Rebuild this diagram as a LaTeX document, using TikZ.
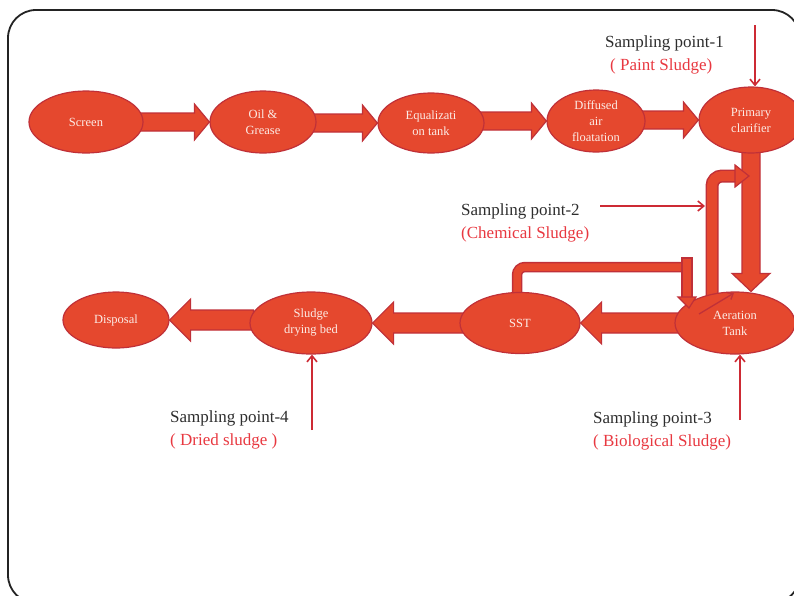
\documentclass[tikz,border=0pt]{standalone}
\usepackage{fontspec}
\setmainfont{Liberation Serif}
\usetikzlibrary{shapes.geometric,arrows.meta,calc}
\definecolor{fillc}{RGB}{229,72,46}
\definecolor{bordc}{RGB}{192,48,56}
\definecolor{txtc}{RGB}{252,236,230}
\definecolor{redt}{RGB}{232,56,64}
\definecolor{blk}{RGB}{45,45,45}
\definecolor{arrc}{RGB}{205,42,52}
\definecolor{framec}{RGB}{35,35,35}
\pgfdeclarelayer{bg}
\pgfsetlayers{bg,main}
% right-pointing block arrow: tail point, tip point, shaft half, head half, head length
\newcommand{\rarrow}[5]{%
  \draw[blockarr] let \p1=#1, \p2=#2 in
    (\x1-4pt,\y2-#3pt) -- (\x2-#5pt,\y2-#3pt) -- (\x2-#5pt,\y2-#4pt) -- (\x2,\y2)
    -- (\x2-#5pt,\y2+#4pt) -- (\x2-#5pt,\y2+#3pt) -- (\x1-4pt,\y2+#3pt) -- cycle;}
\newcommand{\larrow}[5]{%
  \draw[blockarr] let \p1=#1, \p2=#2 in
    (\x1+4pt,\y2-#3pt) -- (\x2+#5pt,\y2-#3pt) -- (\x2+#5pt,\y2-#4pt) -- (\x2,\y2)
    -- (\x2+#5pt,\y2+#4pt) -- (\x2+#5pt,\y2+#3pt) -- (\x1+4pt,\y2+#3pt) -- cycle;}
\newcommand{\darrow}[5]{%
  \draw[blockarr] let \p1=#1, \p2=#2 in
    (\x1-#3pt,\y1+4pt) -- (\x1-#3pt,\y2+#5pt) -- (\x1-#4pt,\y2+#5pt) -- (\x1,\y2)
    -- (\x1+#4pt,\y2+#5pt) -- (\x1+#3pt,\y2+#5pt) -- (\x1+#3pt,\y1+4pt) -- cycle;}
\begin{document}
\begin{tikzpicture}[x=1pt,y=-1pt,
  proc/.style={ellipse, draw=bordc, line width=1.2pt, fill=fillc, inner sep=0pt,
    text=txtc, font=\fontsize{12.5}{16}\selectfont, align=center},
  blockarr/.style={draw=bordc, fill=fillc, line width=1.2pt, line join=miter},
  pipeout/.style={draw=bordc, line width=13pt, rounded corners=10pt},
  pipein/.style={draw=fillc, line width=10pt, rounded corners=10pt},
  pipeouts/.style={draw=bordc, line width=10.5pt, rounded corners=8pt},
  pipeins/.style={draw=fillc, line width=7.5pt, rounded corners=8pt},
  samp/.style={draw=arrc, line width=1.6pt, -{Straight Barb[length=6pt,width=10pt]}},
  lblk/.style={anchor=base west, text=blk, font=\fontsize{17}{20}\selectfont, inner sep=0pt},
  lred/.style={anchor=base west, text=redt, font=\fontsize{17}{20}\selectfont, inner sep=0pt},
]
\useasboundingbox (0,0) rectangle (794,595);

% process nodes
\node[proc, minimum width=114pt, minimum height=62pt] (screen) at (86,122) {Screen};
\node[proc, minimum width=106pt, minimum height=62pt] (oil) at (263,122) {Oil \&\\Grease};
\node[proc, minimum width=106pt, minimum height=60pt] (eq) at (431,123) {Equalizati\\on tank};
\node[proc, minimum width=98pt, minimum height=62pt] (daf) at (596,121) {Diffused\\air\\floatation};
\node[proc, minimum width=104pt, minimum height=66pt] (clar) at (751,120) {Primary\\clarifier};
\node[proc, minimum width=120pt, minimum height=62pt] (aer) at (735,323) {Aeration\\Tank};
\node[proc, minimum width=120pt, minimum height=61pt] (sst) at (520,323) {SST};
\node[proc, minimum width=122pt, minimum height=62pt] (sdb) at (311,323) {Sludge\\drying bed};
\node[proc, minimum width=106pt, minimum height=56pt] (disp) at (116,320) {Disposal};

\begin{pgfonlayer}{bg}
  % frame
  \draw[framec, line width=1.8pt, rounded corners=28pt] (8,10) rectangle (800,603);
  % main flow
  \rarrow{(screen.east)}{(oil.west)}{9}{18}{15}
  \rarrow{(oil.east)}{(eq.west)}{9}{18}{15}
  \rarrow{(eq.east)}{(daf.west)}{9}{18}{15}
  \rarrow{(daf.east)}{(clar.west)}{9}{18}{15}
  \darrow{(clar.south)}{(aer.north)}{9}{19}{18}
  \larrow{(aer.west)}{(sst.east)}{10}{21}{21}
  \larrow{(sst.west)}{(sdb.east)}{10}{21}{21}
  \larrow{(sdb.west)}{(disp.east)}{10}{21}{21}
  % recycle from aeration tank to clarifier line
  \coordinate (rp1) at (712,298);
  \coordinate (rp2) at (712,176);
  \coordinate (rp3) at (737,176);
  \draw[pipeout] (rp1) -- (rp2) -- (rp3);
  \draw[pipein] (rp1) -- (rp2) -- (rp3);
  \draw[blockarr] (rp3) ++(-2,-11) -- ++(14,11) -- ++(-14,11) -- cycle;
  % recycle from SST
  \coordinate (sp1) at (517,296);
  \coordinate (sp2) at (517,267);
  \coordinate (sp3) at (685,267);
  \draw[pipeouts] (sp1) -- (sp2) -- (sp3);
  \draw[pipeins] (sp1) -- (sp2) -- (sp3);
\end{pgfonlayer}

% SST return drop into aeration tank
\coordinate (sb1) at (682,258);
\coordinate (sb2) at (692,298);
\draw[blockarr] (sb1) rectangle (sb2);
\draw[blockarr] (678,297) -- (696,297) -- (689,308) -- cycle;

% small arrow inside aeration tank
\coordinate (ta1) at (699,314);
\coordinate (ta2) at (734,293);
\draw[draw=bordc, line width=1.3pt, -{Straight Barb[length=5pt,width=8pt]}] (ta1) -- (ta2);

% sampling points
\coordinate (s1) at (755,25);
\draw[samp] (s1) -- (s1 |- clar.north);
\coordinate (s2) at (600,206);
\coordinate (s2e) at (705,206);
\draw[samp] (s2) -- (s2e);
\coordinate (s3) at (740,420);
\draw[samp] (s3) -- (s3 |- aer.south);
\coordinate (s4) at (312,430);
\draw[samp] (s4) -- (s4 |- sdb.south);

\node[lblk] (l1a) at (605,47) {Sampling point-1};
\node[lred] (l1b) at (610,70) {( Paint Sludge)};
\node[lblk] (l2a) at (461,215) {Sampling point-2};
\node[lred] (l2b) at (461,238) {(Chemical Sludge)};
\node[lblk] (l3a) at (593,423) {Sampling point-3};
\node[lred] (l3b) at (593,446) {( Biological Sludge)};
\node[lblk] (l4a) at (170,422) {Sampling point-4};
\node[lred] (l4b) at (170,445) {( Dried sludge )};
\end{tikzpicture}
\end{document}
